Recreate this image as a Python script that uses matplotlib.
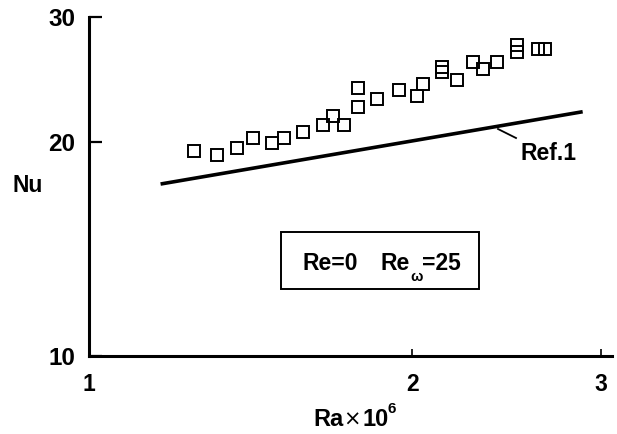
import matplotlib
matplotlib.use("Agg")
import matplotlib.pyplot as plt
from matplotlib.ticker import NullLocator
from matplotlib.patches import Rectangle

plt.rcParams['font.family'] = ['Liberation Sans', 'DejaVu Sans']
plt.rcParams['font.weight'] = 'bold'

# Experimental data (Ra x 10^6, Nu)
ra = [1.253, 1.315, 1.375, 1.423, 1.482, 1.521, 1.584, 1.651, 1.689, 1.728,
      1.780, 1.782, 1.854, 1.946, 2.020, 2.049, 2.131, 2.131, 2.201, 2.281,
      2.330, 2.398, 2.504, 2.504, 2.622, 2.660]
nu = [19.43, 19.18, 19.60, 20.29, 19.96, 20.29, 20.69, 21.14, 21.77, 21.14,
      22.39, 23.86, 23.00, 23.68, 23.25, 24.12, 25.54, 25.13, 24.46, 25.96,
      25.32, 25.90, 27.40, 26.76, 27.04, 27.04]

# Ref.1 correlation line
ref_ra = [1.166, 2.884]
ref_nu = [17.46, 22.07]

x_ticks = [1, 2, 3]
x_ticklabels = ['1', '2', '3']
y_ticks = [10, 20, 30]
y_ticklabels = ['10', '20', '30']

W, H = 617, 434
fig = plt.figure(figsize=(W / 100, H / 100), dpi=100)
ax = fig.add_axes([89 / W, (H - 356) / H, 522.8 / W, 339 / H])

ax.set_xscale('log')
ax.set_yscale('log')
ax.set_xlim(1, 3.07)
ax.set_ylim(10, 30)

ax.plot(ra, nu, linestyle='none', marker='s', ms=8, mfc='none',
        mec='black', mew=1.4, clip_on=False)
ax.plot(ref_ra, ref_nu, color='black', lw=2.6, solid_capstyle='butt')

ax.set_xticks(x_ticks)
ax.set_xticklabels(x_ticklabels)
ax.set_yticks(y_ticks)
ax.set_yticklabels(y_ticklabels)
ax.xaxis.set_minor_locator(NullLocator())
ax.yaxis.set_minor_locator(NullLocator())

for s in ['top', 'right']:
    ax.spines[s].set_visible(False)
for s in ['left', 'bottom']:
    ax.spines[s].set_linewidth(2.2)

ax.tick_params(axis='y', direction='in', length=9.5, width=1.6, pad=10,
               labelsize=17.5)
ax.tick_params(axis='x', direction='in', length=5, width=1.2, pad=12,
               labelsize=16.5)
for lbl in ax.get_xticklabels() + ax.get_yticklabels():
    lbl.set_fontweight('bold')

def fx(px):
    return (px - 89) / 522.8

def fy(py):
    return (356 - py) / 339

# Ref.1 label with leader
ax.plot([fx(498), fx(516)], [fy(129), fy(138)], transform=ax.transAxes,
        color='black', lw=1.3, clip_on=False)
ax.text(fx(520), fy(160), 'Ref.1', transform=ax.transAxes, fontsize=16.5,
        fontweight='bold', ha='left', va='baseline')

# Condition box
ax.add_patch(Rectangle((fx(281), fy(289)), fx(479) - fx(281), fy(232) - fy(289),
                       transform=ax.transAxes, fill=False, ec='black', lw=1.4))
ax.text(fx(302), fy(270), 'Re=0', transform=ax.transAxes, fontsize=16.5,
        fontweight='bold', ha='left', va='baseline')
ax.text(fx(381), fy(270), 'Re', transform=ax.transAxes,
        fontsize=16.5, fontweight='bold', ha='left', va='baseline')
ax.text(fx(410), fy(281), '\u03c9', transform=ax.transAxes,
        fontsize=10.5, fontweight='bold', ha='left', va='baseline')
ax.text(fx(422), fy(270), '=25', transform=ax.transAxes,
        fontsize=16.5, fontweight='bold', ha='left', va='baseline')

# Axis labels
fig.text(28 / W, 1 - 185 / H, 'Nu', fontsize=16.5, fontweight='bold',
         ha='center', va='center')
fig.text(313 / W, 1 - 426 / H, 'Ra', fontsize=17, fontweight='bold',
         ha='left', va='baseline')
fig.text(352 / W, 1 - 426 / H, '\u00d7', fontsize=15, fontweight='normal',
         family=['DejaVu Sans'], ha='center', va='baseline')
fig.text(362 / W, 1 - 426 / H, '10', fontsize=17, fontweight='bold',
         ha='left', va='baseline')
fig.text(388 / W, 1 - 413 / H, '6', fontsize=11, fontweight='bold',
         ha='left', va='baseline')

fig.savefig('out.png', dpi=100)
